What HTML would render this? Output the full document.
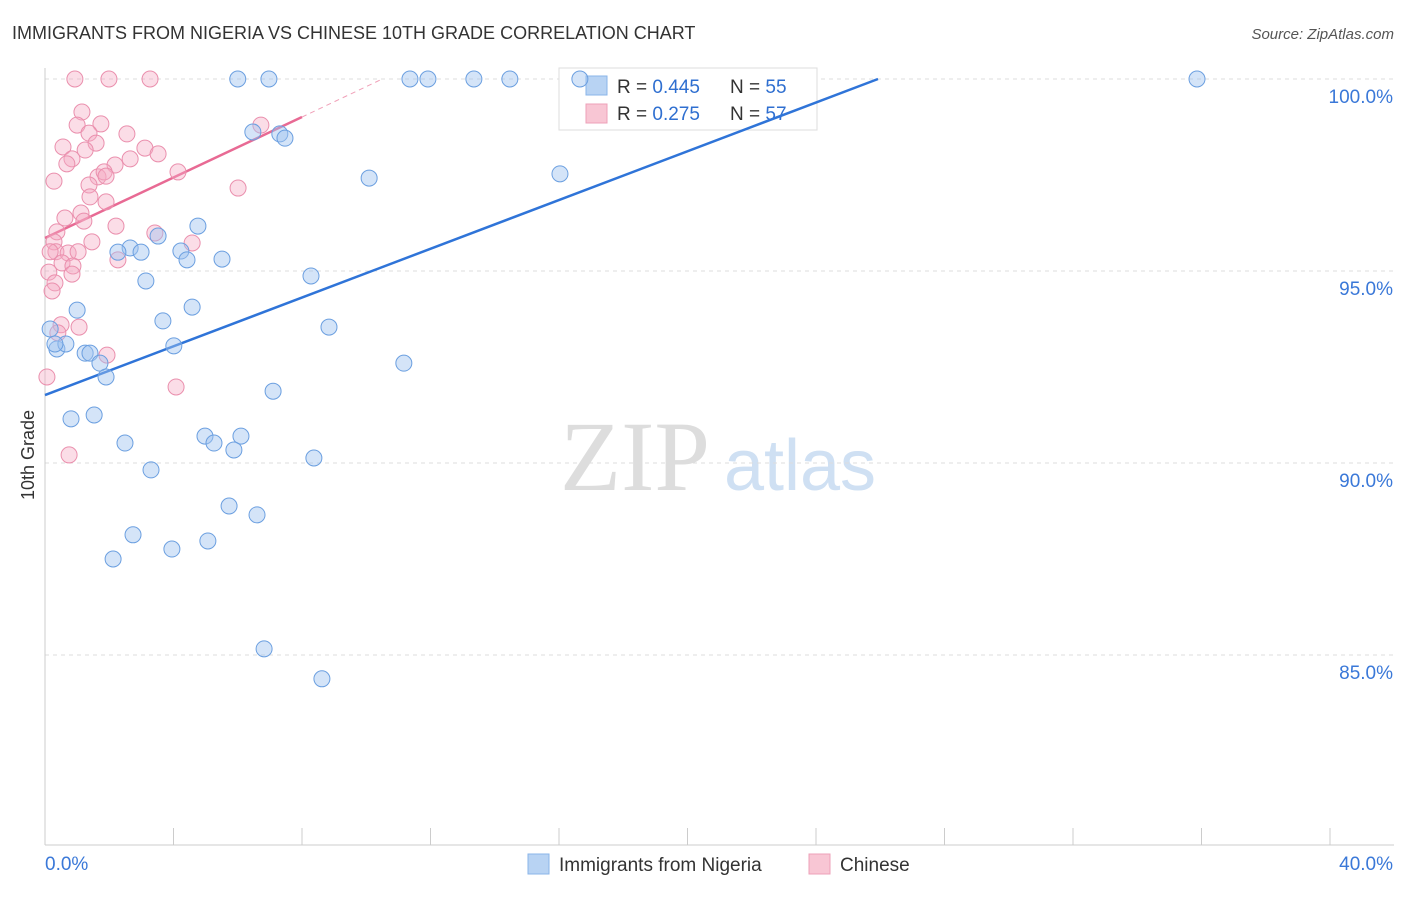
<!DOCTYPE html>
<html><head><meta charset="utf-8"><style>
body{margin:0;background:#fff;font-family:"Liberation Sans",sans-serif;}
svg text{font-family:"Liberation Sans",sans-serif;}
</style></head><body>
<svg id="chart" width="1406" height="892">
<text x="12" y="39" font-size="18" fill="#333">IMMIGRANTS FROM NIGERIA VS CHINESE 10TH GRADE CORRELATION CHART</text>
<text x="1394" y="39" font-size="15" fill="#555" font-style="italic" text-anchor="end">Source: ZipAtlas.com</text>
<text transform="translate(34,455) rotate(-90)" font-size="18" fill="#333" text-anchor="middle">10th Grade</text>
<g><text x="635" y="490" font-size="100" fill="#ddd" style="font-family:'Liberation Serif',serif" text-anchor="middle">ZIP</text><text x="800" y="490" font-size="72" fill="#cfe0f3" text-anchor="middle">atlas</text></g>
<g id="grid"></g><g id="axes"></g>
<g>
<rect x="559" y="68" width="258" height="62" fill="#fff" stroke="#ddd"/>
<rect x="586" y="76" width="21" height="19" fill="#b8d3f3" stroke="#8ab4e8"/>
<rect x="586" y="104" width="21" height="19" fill="#f8c6d4" stroke="#eea0b8"/>
<text x="617" y="93" font-size="19" fill="#333">R = <tspan fill="#2f6fd0">0.445</tspan></text>
<text x="730" y="93" font-size="19" fill="#333">N = <tspan fill="#2f6fd0">55</tspan></text>
<text x="617" y="120" font-size="19" fill="#333">R = <tspan fill="#2f6fd0"> 0.275</tspan></text>
<text x="730" y="120" font-size="19" fill="#333">N = <tspan fill="#2f6fd0">57</tspan></text>
</g>
<g id="lines"></g><g id="pts"></g>
<g>
<rect x="528" y="854" width="21" height="20" fill="#b8d3f3" stroke="#8ab4e8"/>
<text x="559" y="871" font-size="19" fill="#333">Immigrants from Nigeria</text>
<rect x="809" y="854" width="21" height="20" fill="#f8c6d4" stroke="#eea0b8"/>
<text x="840" y="871" font-size="19" fill="#333">Chinese</text>
</g>
</svg>
<script>
const blueX=[6.0,6.97,11.36,11.92,13.35,14.47,16.65,35.86,6.47,7.31,7.47,10.09,16.03,4.76,3.52,2.65,2.27,2.99,4.23,4.42,5.51,3.14,8.28,1.0,3.67,4.58,8.84,4.01,0.37,0.65,1.25,1.4,1.71,1.9,11.17,7.1,0.81,1.53,2.49,4.98,5.26,6.1,5.88,3.3,8.37,5.73,6.6,2.74,5.07,3.95,2.12,6.82,8.62,0.16,0.31];
const blueY=[100,100,100,100,100,100,100,100,98.62,98.57,98.46,97.42,97.53,96.17,95.91,95.6,95.49,95.49,95.52,95.29,95.31,94.74,94.87,93.98,93.7,94.06,93.54,93.05,92.97,93.1,92.86,92.86,92.6,92.24,92.6,91.87,91.15,91.25,90.52,90.7,90.52,90.7,90.34,89.82,90.13,88.88,88.65,88.13,87.97,87.76,87.5,85.16,84.38,93.49,93.1];
const pinkX=[0.93,1.99,3.27,1.15,1.0,1.74,1.37,2.55,0.56,1.59,1.25,3.11,3.52,0.84,0.68,2.65,2.18,4.14,0.28,1.65,1.84,1.9,1.37,6.01,6.72,1.4,1.9,1.12,0.62,1.21,2.21,3.42,0.37,0.28,1.46,4.58,0.34,0.72,1.03,2.27,0.53,0.87,0.12,0.84,0.31,0.22,0.5,1.06,0.4,1.93,4.08,0.75,0.06,0.16];
const pinkY=[100,100,100,99.14,98.8,98.83,98.59,98.57,98.23,98.33,98.15,98.2,98.05,97.92,97.79,97.92,97.76,97.58,97.34,97.45,97.58,97.47,97.24,97.16,98.8,96.93,96.8,96.51,96.38,96.3,96.17,95.99,96.02,95.76,95.76,95.73,95.5,95.47,95.5,95.29,95.21,95.13,94.97,94.92,94.69,94.48,93.6,93.54,93.39,92.81,91.98,90.21,92.24,95.5];
const X=v=>45+v/40*1285, Y=v=>79+(100-v)*38.4;
const yTicks=[100,95,90,85], yLabels=["100.0%","95.0%","90.0%","85.0%"];
const NS="http://www.w3.org/2000/svg";
function mk(p,t,a){const e=document.createElementNS(NS,t);for(const k in a)e.setAttribute(k,a[k]);p.appendChild(e);return e;}
const grid=document.getElementById('grid'),axes=document.getElementById('axes');
yTicks.forEach((t,i)=>{
 const l=mk(grid,'line',{x1:45,x2:1394,y1:Y(t),y2:Y(t),stroke:'#ddd','stroke-dasharray':'4,4'});
 
 
 const tx=mk(axes,'text',{x:1393,y:Y(t)+24,'font-size':19,fill:'#3a78d8','text-anchor':'end'});tx.textContent=yLabels[i];
 
 
});
mk(axes,'line',{x1:45,x2:45,y1:68,y2:845,stroke:'#ccc'});
mk(axes,'line',{x1:45,x2:1394,y1:845,y2:845,stroke:'#ccc'});
for(let i=0;i<=10;i++){mk(axes,'line',{x1:X(i*4),x2:X(i*4),y1:828,y2:845,stroke:'#ccc'});}
let t0=mk(axes,'text',{x:45,y:870,'font-size':19,fill:'#3a78d8'});t0.textContent="0.0%";


let t1=mk(axes,'text',{x:1393,y:870,'font-size':19,fill:'#3a78d8','text-anchor':'end'});t1.textContent="40.0%";


const lines=document.getElementById('lines');
const bl=mk(lines,'line',{x1:X(0),y1:Y(91.77),x2:X(25.93),y2:Y(100),stroke:'#2f74d8','stroke-width':2.5});


const pl=mk(lines,'line',{x1:X(0),y1:Y(95.86),x2:X(8),y2:Y(99.01),stroke:'#e86a94','stroke-width':2.5});


mk(lines,'line',{x1:X(8),y1:Y(99.01),x2:X(10.5),y2:Y(100),stroke:'#f0a0b8','stroke-width':1,'stroke-dasharray':'5,4'});
const pts=document.getElementById('pts');
pinkX.forEach((x,i)=>{const c=mk(pts,'circle',{cx:X(x),cy:Y(pinkY[i]),r:8,fill:'rgba(246,170,195,0.4)',stroke:'#ea8fad','stroke-width':1});
 
 });
blueX.forEach((x,i)=>{const c=mk(pts,'circle',{cx:X(x),cy:Y(blueY[i]),r:8,fill:'rgba(160,196,240,0.45)',stroke:'#6b9fe0','stroke-width':1});
 
 });
</script>
</body></html>
